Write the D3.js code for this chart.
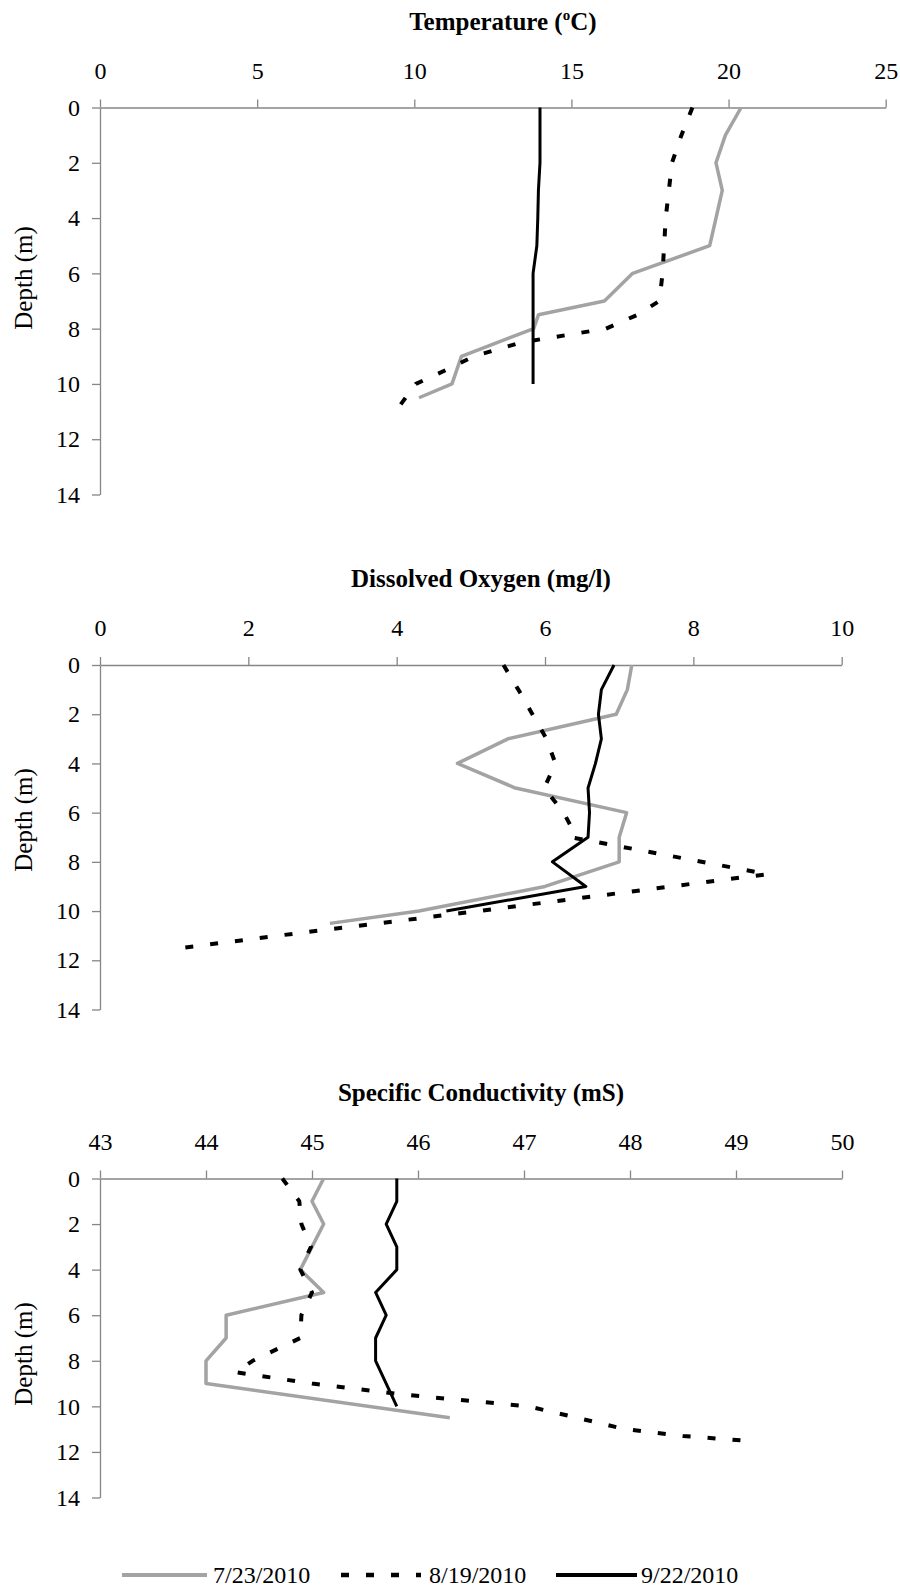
<html>
<head>
  <script src="https://d3js.org/d3.v7.min.js"></script>
  <title>Depth profiles</title>
  <style>
    body { margin: 0; background: #fff; }
    text { font-family: "Liberation Serif", "Times New Roman", serif; }
  </style>
</head>
<body>
  <svg id="chart" width="900" height="1594"></svg>

  <script>
    // Series names (sampling dates)
    const seriesNames = ["7/23/2010", "8/19/2010", "9/22/2010"];

    // Temperature (deg C) by depth (m)
    const tempDepth0723 = [0, 1, 2, 3, 4, 5, 6, 7, 7.5, 8, 9, 10, 10.5];
    const temp0723 = [20.4, 19.9, 19.6, 19.8, 19.6, 19.4, 16.95, 16.05, 13.95, 13.8, 11.5, 11.2, 10.15];
    const tempDepth0819 = [0, 1, 2, 3, 4, 5, 6, 7, 7.5, 8, 8.5, 9, 9.5, 10, 11];
    const temp0819 = [18.85, 18.5, 18.2, 18.1, 18.0, 17.95, 17.9, 17.8, 17.1, 16.1, 13.4, 11.9, 11.0, 10.05, 9.4];
    const tempDepth0922 = [0, 1, 2, 3, 4, 5, 6, 7, 8, 9, 10];
    const temp0922 = [14.0, 14.0, 14.0, 13.95, 13.93, 13.9, 13.78, 13.78, 13.78, 13.78, 13.78];

    // Dissolved oxygen (mg/l) by depth (m)
    const doDepth0723 = [0, 1, 2, 3, 4, 5, 6, 7, 8, 9, 10, 10.5];
    const do0723 = [7.17, 7.11, 6.96, 5.5, 4.82, 5.6, 7.1, 7.0, 7.0, 6.0, 4.3, 3.1];
    const doDepth0819 = [0, 1, 2, 3, 4, 5, 6, 6.5, 7, 8.5, 9, 10, 11, 11.5];
    const do0819 = [5.44, 5.64, 5.83, 6.02, 6.14, 5.99, 6.25, 6.34, 6.35, 9.0, 7.7, 5.1, 2.4, 1.1];
    const doDepth0922 = [0, 1, 2, 3, 4, 5, 6, 7, 8, 9, 10];
    const do0922 = [6.93, 6.76, 6.72, 6.76, 6.68, 6.58, 6.6, 6.58, 6.1, 6.55, 4.67];

    // Specific conductivity (mS) by depth (m)
    const condDepth0723 = [0, 1, 2, 3, 4, 5, 6, 7, 8, 9, 10.5];
    const cond0723 = [45.11, 45.0, 45.11, 45.0, 44.89, 45.11, 44.19, 44.19, 44.0, 44.0, 46.3];
    const condDepth0819 = [0, 1, 2, 3, 4, 5, 6, 7, 8, 8.5, 9, 9.5, 10, 10.5, 11, 11.3, 11.5];
    const cond0819 = [44.72, 44.88, 44.9, 44.99, 44.89, 45.0, 44.9, 44.89, 44.44, 44.28, 45.0, 45.9, 47.04, 47.5, 47.95, 48.5, 49.07];
    const condDepth0922 = [0, 1, 2, 3, 4, 5, 6, 7, 8, 10];
    const cond0922 = [45.8, 45.8, 45.7, 45.8, 45.8, 45.6, 45.7, 45.6, 45.6, 45.8];

    // Axis ticks
    const depthTicks = [0, 2, 4, 6, 8, 10, 12, 14];
    const tempTicks = [0, 5, 10, 15, 20, 25];
    const doTicks = [0, 2, 4, 6, 8, 10];
    const condTicks = [43, 44, 45, 46, 47, 48, 49, 50];

    const styles = [
      { stroke: "#a3a3a3", width: 3.5, dash: null },
      { stroke: "#000", width: 4, dash: "8,17" },
      { stroke: "#000", width: 3, dash: null }
    ];

    const svg = d3.select("#chart");
    const axisColor = "#868686";

    function zip(depths, values) {
      return depths.map((d, i) => ({ depth: d, value: values[i] }));
    }

    function drawPanel(p) {
      let x = d3.scaleLinear().domain([p.ticks[0], p.ticks[p.ticks.length - 1]]).range([p.left, p.right]);
      let y = d3.scaleLinear().domain([0, 14]).range([p.top, p.bottom]);

      // x axis along the top (depth 0)
      let gx = svg.append("g")
        .attr("transform", `translate(0,${p.top})`)
        .call(d3.axisTop(x).tickValues(p.ticks).tickSize(8).tickSizeOuter(0).tickPadding(21).tickFormat(d3.format("d")));
      // y axis (depth)
      let gy = svg.append("g")
        .attr("transform", `translate(${p.left},0)`)
        .call(d3.axisLeft(y).tickValues(depthTicks).tickSize(8).tickSizeOuter(0).tickPadding(12).tickFormat(d3.format("d")));

      [gx, gy].forEach(g => {
        g.select(".domain").attr("stroke", axisColor).attr("stroke-width", 1.3);
        g.selectAll(".tick line").attr("stroke", axisColor).attr("stroke-width", 1.3);
        g.selectAll(".tick text")
          .attr("fill", "#000")
          .attr("font-size", 24)
          .attr("font-family", "Liberation Serif, Times New Roman, serif");
      });

      // Title
      let t = svg.append("text")
        .attr("x", (p.left + p.right) / 2 + 10)
        .attr("y", p.top - 78)
        .attr("text-anchor", "middle")
        .attr("font-size", 25)
        .attr("font-weight", "bold");
      p.title(t);

      // Depth label
      svg.append("text")
        .attr("transform", `translate(23,${p.labelY}) rotate(-90)`)
        .attr("text-anchor", "middle")
        .attr("dominant-baseline", "central")
        .attr("font-size", 25)
        .text("Depth (m)");

      // Profiles
      let line = d3.line().x(d => x(d.value)).y(d => y(d.depth));
      p.series.forEach((s, i) => {
        svg.append("path")
          .datum(s)
          .attr("d", line)
          .attr("fill", "none")
          .attr("stroke", styles[i].stroke)
          .attr("stroke-width", styles[i].width)
          .attr("stroke-dasharray", styles[i].dash)
          .attr("stroke-linejoin", "round");
      });
    }

    drawPanel({
      left: 100, right: 885.7, top: 107.5, bottom: 494.5, labelY: 278,
      ticks: tempTicks,
      title: t => {
        t.append("tspan").text("Temperature (");
        t.append("tspan").attr("font-size", 15).attr("dy", -10).text("o");
        t.append("tspan").attr("dy", 10).text("C)");
      },
      series: [zip(tempDepth0723, temp0723), zip(tempDepth0819, temp0819), zip(tempDepth0922, temp0922)]
    });

    drawPanel({
      left: 100, right: 841.7, top: 665, bottom: 1009.5, labelY: 820,
      ticks: doTicks,
      title: t => t.text("Dissolved Oxygen (mg/l)"),
      series: [zip(doDepth0723, do0723), zip(doDepth0819, do0819), zip(doDepth0922, do0922)]
    });

    drawPanel({
      left: 100, right: 842, top: 1178.5, bottom: 1497.5, labelY: 1354,
      ticks: condTicks,
      title: t => t.text("Specific Conductivity (mS)"),
      series: [zip(condDepth0723, cond0723), zip(condDepth0819, cond0819), zip(condDepth0922, cond0922)]
    });

    // Legend
    let legendItems = [
      { x1: 122, x2: 207, tx: 213 },
      { x1: 341, x2: 421, tx: 429 },
      { x1: 556, x2: 637, tx: 641 }
    ];
    let legend = svg.append("g").attr("transform", "translate(0,1575)");
    legendItems.forEach((d, i) => {
      legend.append("line")
        .attr("x1", d.x1).attr("x2", d.x2)
        .attr("stroke", styles[i].stroke)
        .attr("stroke-width", i === 2 ? 4 : styles[i].width + 0.5)
        .attr("stroke-dasharray", styles[i].dash);
      legend.append("text")
        .attr("x", d.tx)
        .attr("y", 8)
        .attr("font-size", 24)
        .text(seriesNames[i]);
    });
  </script>
</body>
</html>
